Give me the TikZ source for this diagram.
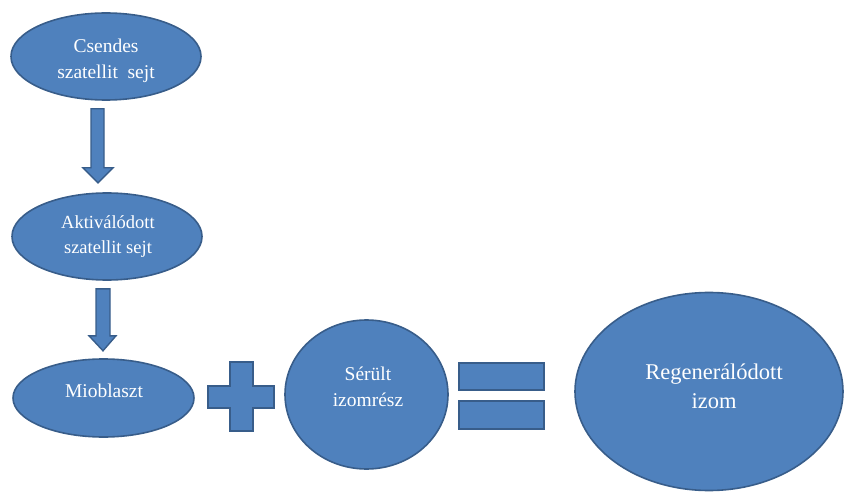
\documentclass[tikz,border=0pt]{standalone}
\usepackage{fontspec}
\setmainfont{Liberation Serif}
\newfontfamily\cellfont{Liberation Serif}
\usetikzlibrary{shapes.geometric,calc}
\definecolor{cellfill}{HTML}{4F81BD}
\definecolor{cellline}{HTML}{385D8A}

\begin{document}
\begin{tikzpicture}[x=1pt,y=-1pt,
	cell/.style={ellipse,draw=cellline,fill=cellfill,line width=1.6pt,inner sep=0pt},
	sign/.style={draw=cellline,fill=cellfill,line width=1.4pt,line join=miter},
	celltext/.style={text=white,align=center,font=\cellfont\fontsize{19.5}{25.5}\selectfont}]
	\useasboundingbox (0,0) rectangle (844,492);
 	 % the cells
	\node[cell,minimum width=190,minimum height=87] (csendes) at (106,56.5) {};
	\node[cell,minimum width=190,minimum height=87] (aktiv) at (107,236.5) {};
	\node[cell,minimum width=181,minimum height=78] (mioblaszt) at (103.5,398) {};
	\node[cell,minimum width=163,minimum height=149] (serult) at (366.5,394.5) {};
	\node[cell,minimum width=268,minimum height=198] (regen) at (709,391.5) {};
	\node[celltext] (csendesT) at (106,61) {Csendes\\szatellit\ \ sejt};
	\node[celltext,font=\cellfont\fontsize{18.5}{25}\selectfont] (aktivT) at (108,237) {Aktiválódott\\szatellit sejt};
	\node[celltext,anchor=base] (mioblasztT) at (104,397) {Mioblaszt};
	\node[celltext,font=\cellfont\fontsize{19.5}{26}\selectfont] (serultT) at (368,386.5) {Sérült\\izomrész};
	\node[celltext,font=\cellfont\fontsize{22.5}{29}\selectfont] (regenT) at (714,386) {Regenerálódott\\izom};
	% block arrows
	\coordinate (a1) at ($(csendes.south)+(-15,8)$);
	\draw[sign] (a1) -- ++(13,0) -- ++(0,59) -- ++(9,0) -- ++(-15,15) -- ++(-15,-15) -- ++(8,0) -- cycle;
	\coordinate (a2) at ($(aktiv.south)+(-11,8)$);
	\draw[sign] (a2) -- ++(14,0) -- ++(0,47) -- ++(6,0) -- ++(-13,15) -- ++(-14,-15) -- ++(7,0) -- cycle;
	% plus and equals
	\draw[sign] (230,362) -- (253,362) -- (253,386) -- (274,386) -- (274,408) -- (253,408)
		-- (253,431) -- (230,431) -- (230,408) -- (208,408) -- (208,386) -- (230,386) -- cycle;
	\draw[sign] (459,363) rectangle (544,390);
	\draw[sign] (459,401) rectangle (544,429);
\end{tikzpicture}
\end{document}
